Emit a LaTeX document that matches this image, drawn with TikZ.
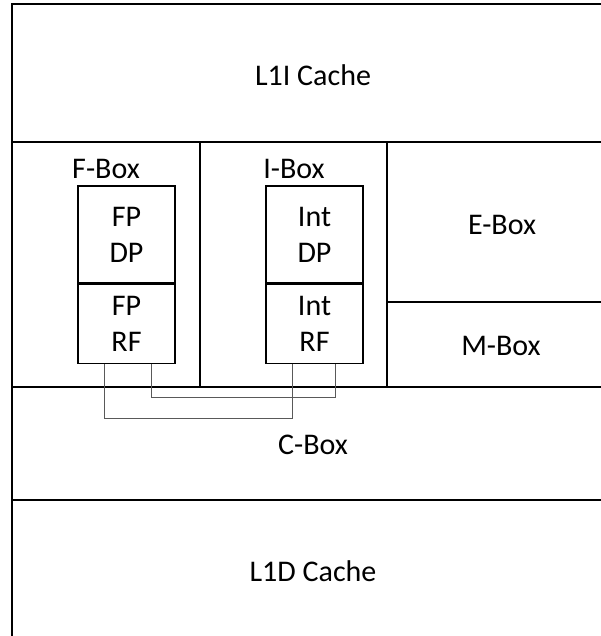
\documentclass[tikz,border=0pt]{standalone}
\usepackage{fontspec}
\setmainfont{Carlito}
\usetikzlibrary{positioning}

\tikzset{
  wall/.style={line width=1.5pt},
  lbl/.style={font=\fontsize{30}{36}\selectfont, inner sep=0pt},
  unit/.style={draw, line width=1.2pt, minimum width=97pt, inner sep=0pt,
    align=center, font=\fontsize{30}{36}\selectfont},
  link/.style={draw=black!65, line width=0.9pt},
}

\begin{document}
\begin{tikzpicture}[x=1pt,y=-1pt]
    \useasboundingbox (0,0) rectangle (601,636);
    \clip (0,0) rectangle (601,636);

    % outer frame and partitions
    \draw[wall] (12,4) rectangle (615,642);
    \draw[wall] (12,142) -- (615,142);
    \draw[wall] (12,387) -- (615,387);
    \draw[wall] (12,500) -- (615,500);
    \draw[wall] (200,142) -- (200,387);
    \draw[wall] (387,142) -- (387,387);
    \draw[wall] (387,302) -- (615,302);

    % region labels
    \node[lbl] (l1i) at (313,75) {L1I Cache};
    \node[lbl] (fbox) at (106,169) {F-Box};
    \node[lbl] (ibox) at (294,169) {I-Box};
    \node[lbl] (ebox) at (502,225) {E-Box};
    \node[lbl] (mbox) at (501,346) {M-Box};
    \node[lbl] (cbox) at (313,445) {C-Box};
    \node[lbl] (l1d) at (313,571) {L1D Cache};

    % FP datapath and register file
    \node[unit, minimum height=97pt] (fpdp) at (126.5,234.5) {FP\\DP};
    \node[unit, minimum height=79pt, below=0pt of fpdp] (fprf) {FP\\RF};

    % integer datapath and register file
    \node[unit, minimum height=97pt] (intdp) at (314.5,234.5) {Int\\DP};
    \node[unit, minimum height=79pt, below=0pt of intdp] (intrf) {Int\\RF};

    % links between the register files
    \draw[link] ([xshift=27pt]fprf.south west) -- ++(0,55) -| ([xshift=27pt]intrf.south west);
    \draw[link] ([xshift=74pt]fprf.south west) -- ++(0,34) -| ([xshift=70pt]intrf.south west);
\end{tikzpicture}
\end{document}
